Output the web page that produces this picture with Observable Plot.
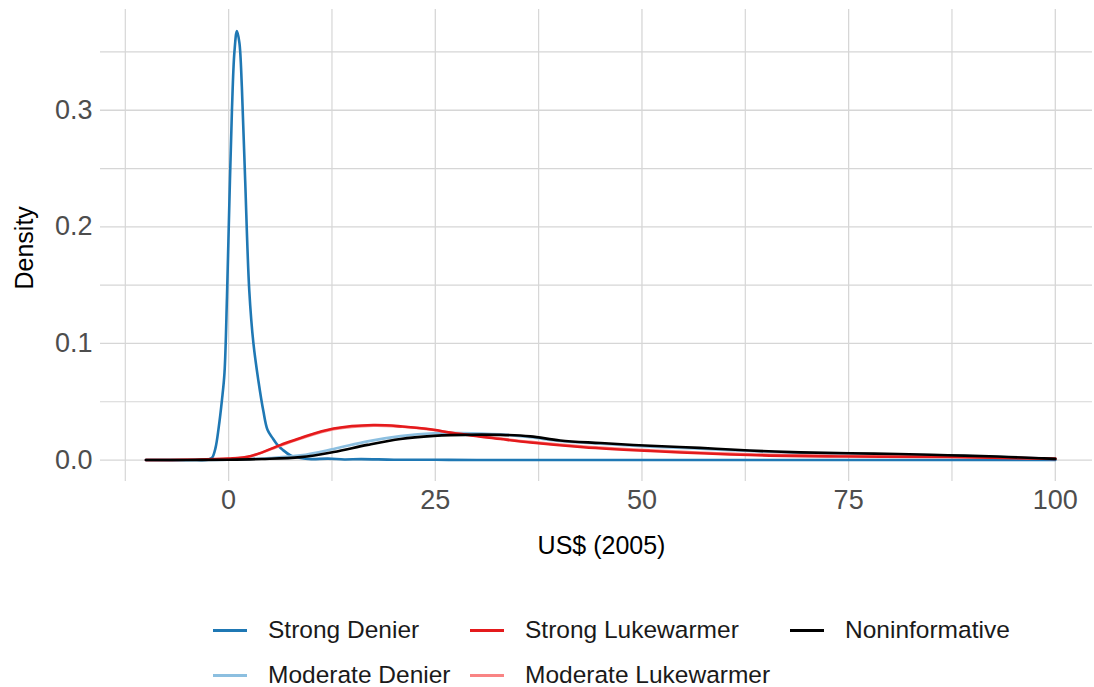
<!DOCTYPE html>
<html>
<head>
<meta charset="utf-8">
<script src="https://cdn.jsdelivr.net/npm/d3@7"></script>
<script src="https://cdn.jsdelivr.net/npm/@observablehq/plot@0.6"></script>
<style>
  html, body { margin: 0; padding: 0; background: #fff; }
  body { width: 1094px; height: 687px; overflow: hidden; font-family: "Liberation Sans", Arial, sans-serif; }
  #legend {
    position: relative; height: 117px;
  }
  .item { position: absolute; display: flex; align-items: center; font-size: 24.5px; color: #1a1a1a; white-space: nowrap; }
  .key { width: 34px; height: 3px; margin-right: 21px; }
</style>
</head>
<body>
<div id="chart"></div>
<div id="legend"></div>
<script>
// Posterior densities of the social cost of carbon under each prior
const seriesNames = ["Strong Denier", "Moderate Denier", "Strong Lukewarmer", "Moderate Lukewarmer", "Noninformative"];
const seriesColors = ["#1f78b4", "#8cbfe0", "#e41a1c", "#f98484", "#000000"];

const strongDenierX = [-10, -4, -2.5, -2, -1.6, -1.2, -0.8, -0.5, -0.2, 0.1, 0.4, 0.7, 1.0, 1.3, 1.6, 2.0, 2.5, 3.0, 3.6, 4.2, 4.7, 5.3, 5.9, 6.5, 7.5, 8.7, 10, 12, 14, 16, 20, 25, 30, 40, 60, 80, 100];
const strongDenierY = [0, 0, 0.0003, 0.002, 0.01, 0.028, 0.052, 0.075, 0.14, 0.224, 0.3, 0.35, 0.368, 0.358, 0.32, 0.24, 0.145, 0.1, 0.068, 0.042, 0.026, 0.019, 0.013, 0.009, 0.004, 0.0017, 0.0008, 0.0012, 0.0005, 0.0008, 0.0003, 0.0002, 0.0001, 0, 0, 0, 0];

const moderateDenierX = [-10, -5, 0, 5, 8.7, 12.7, 16.8, 20.8, 24.8, 28, 32.9, 36.5, 40, 45, 51, 57, 63, 69, 75, 81, 87, 93, 100];
const moderateDenierY = [0, 0.0001, 0.0004, 0.0018, 0.004, 0.0095, 0.016, 0.0205, 0.023, 0.0232, 0.022, 0.0195, 0.0163, 0.0140, 0.0115, 0.0097, 0.0077, 0.0061, 0.0050, 0.0046, 0.0037, 0.0027, 0.0011];

const strongLukeX = [-10, -5, 0, 2.7, 6.3, 8.7, 12.7, 17.5, 21, 24.8, 26.8, 32.9, 36.5, 42.9, 51, 63, 75, 87, 100];
const strongLukeY = [0, 0.0002, 0.0012, 0.0035, 0.013, 0.019, 0.027, 0.030, 0.0288, 0.026, 0.0235, 0.018, 0.015, 0.011, 0.0078, 0.0043, 0.003, 0.0026, 0.001];

const moderateLukeX = [-10, -5, 0, 2.7, 6.3, 8.7, 12.7, 17.5, 21, 24.8, 26.8, 32.9, 36.5, 42.9, 51, 63, 75, 87, 100];
const moderateLukeY = [0, 0.0002, 0.0011, 0.0033, 0.0125, 0.0185, 0.0265, 0.0295, 0.0285, 0.0258, 0.0236, 0.0184, 0.0156, 0.0116, 0.0084, 0.0050, 0.0036, 0.0030, 0.0012];

const noninformativeX = [-10, -5, 0, 4, 8.7, 12.7, 16.8, 20.8, 24.8, 26.8, 32.9, 36.5, 40.1, 45, 51, 57, 63, 69.2, 75.2, 81, 87, 93, 98, 100];
const noninformativeY = [0, 0.0001, 0.0003, 0.0009, 0.0025, 0.0069, 0.013, 0.018, 0.0207, 0.0214, 0.0216, 0.0203, 0.0168, 0.0146, 0.0122, 0.0104, 0.0082, 0.0066, 0.0058, 0.0052, 0.0041, 0.003, 0.0016, 0.001];

const xTicks = [0, 25, 50, 75, 100];
const xMinor = [-12.5, 12.5, 37.5, 62.5, 87.5];
const yTicks = [0, 0.1, 0.2, 0.3];
const yMinor = [0.05, 0.15, 0.25, 0.35];

// long-format table built from the arrays above
const columns = [
  [strongDenierX, strongDenierY],
  [moderateDenierX, moderateDenierY],
  [strongLukeX, strongLukeY],
  [moderateLukeX, moderateLukeY],
  [noninformativeX, noninformativeY]
];
// drawing order: baseline-hugging series first, the noninformative prior last
const drawOrder = ["Strong Denier", "Moderate Denier", "Moderate Lukewarmer", "Strong Lukewarmer", "Noninformative"];
const rows = [];
for (const name of drawOrder) {
  const i = seriesNames.indexOf(name);
  const [xs, ys] = columns[i];
  xs.forEach((x, k) => rows.push({series: name, x, y: ys[k]}));
}

const gridColor = "#d6d6d6";
const font = "Liberation Sans, Arial, sans-serif";
const yDomain = [-0.0184, 0.3864];

const chart = Plot.plot({
  width: 1094,
  height: 570,
  marginTop: 9,
  marginBottom: 89,
  marginLeft: 100,
  marginRight: 2,
  style: {fontFamily: font, background: "#fff"},
  x: {domain: [-15.5, 104.5]},
  y: {domain: yDomain},
  color: {domain: seriesNames, range: seriesColors},
  marks: [
    Plot.gridX(xMinor, {stroke: gridColor, strokeOpacity: 1, strokeWidth: 1.2}),
    Plot.gridX(xTicks, {stroke: gridColor, strokeOpacity: 1, strokeWidth: 1.3}),
    Plot.gridY(yMinor, {stroke: gridColor, strokeOpacity: 1, strokeWidth: 1.2}),
    Plot.gridY(yTicks, {stroke: gridColor, strokeOpacity: 1, strokeWidth: 1.3}),
    Plot.axisX(xTicks, {tickSize: 0, tickPadding: 8, fontSize: 27, fill: "#4d4d4d", label: null}),
    Plot.axisY(yTicks, {tickSize: 0, tickPadding: 8, fontSize: 27, fill: "#4d4d4d", label: null, tickFormat: d3.format(".1f")}),
    Plot.text(["US$ (2005)"], {frameAnchor: "bottom", dx: 5, dy: 64, fontSize: 25, fill: "#000", lineAnchor: "middle"}),
    // y-axis title centred on the panel, placed with the y scale
    Plot.text(["Density"], {y: () => 0.182, frameAnchor: "left", dx: -76, rotate: -90, fontSize: 25, fill: "#000", textAnchor: "middle", lineAnchor: "middle"}),
    Plot.line(rows, {x: "x", y: "y", z: "series", stroke: "series", strokeWidth: 2.6, curve: "catmull-rom"})
  ]
});
document.getElementById("chart").appendChild(chart);

// legend below the plot, filled column by column
const legend = document.getElementById("legend");
const colLeft = [213, 470, 790];
const rowTop = [60, 105];
seriesNames.forEach((name, i) => {
  const col = Math.floor(i / 2), row = i % 2;
  const item = document.createElement("div");
  item.className = "item";
  item.style.left = colLeft[col] + "px";
  item.style.top = (rowTop[row] - 15) + "px";
  item.style.height = "30px";
  const key = document.createElement("span");
  key.className = "key";
  key.style.background = seriesColors[i];
  const label = document.createElement("span");
  label.textContent = name;
  item.appendChild(key);
  item.appendChild(label);
  legend.appendChild(item);
});
</script>
</body>
</html>
